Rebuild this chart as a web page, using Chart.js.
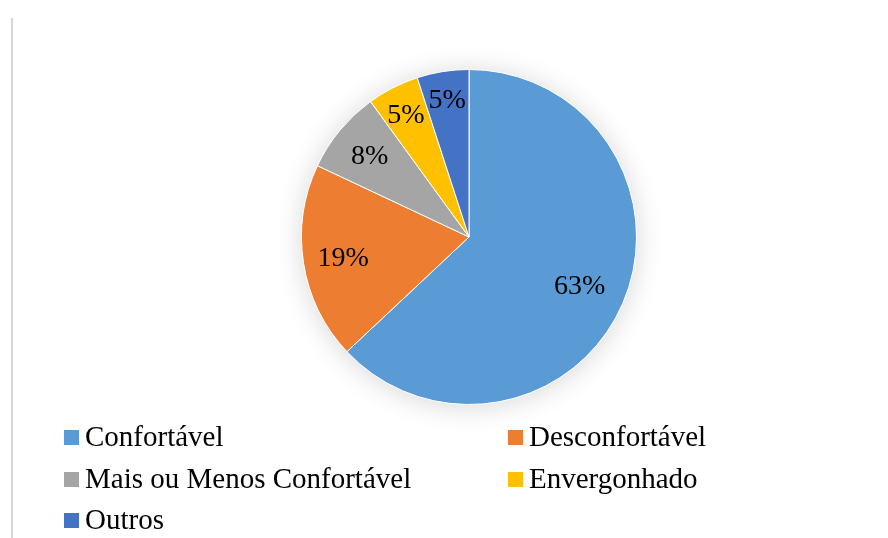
<!DOCTYPE html>
<html>
<head>
<meta charset="utf-8">
<script src="https://cdn.jsdelivr.net/npm/chart.js@4/dist/chart.umd.min.js"></script>
<style>
    body { margin: 0; background: #fff; }
    #wrap { position: relative; width: 888px; height: 538px; overflow: hidden; }
    #frame { position: absolute; left: 11px; top: 18px; width: 0; height: 530px; border-left: 2px solid #d6d6d6; }
    .legend-item { position: absolute; font-family: "Liberation Serif", "Times New Roman", serif; font-size: 29px; line-height: 32px; color: #000; white-space: nowrap; }
    .legend-box { position: absolute; width: 15px; height: 15px; }
</style>
</head>
<body>
<div id="wrap">
    <canvas id="pieChart" width="888" height="538"></canvas>
    <div id="frame"></div>
    <div id="legend"></div>
</div>
<script>
// ===== Data =====
const categories = ["Confortável", "Desconfortável", "Mais ou Menos Confortável", "Envergonhado", "Outros"];
const values = [63, 19, 8, 5, 5];
const colors = ["#5B9BD5", "#ED7D31", "#A5A5A5", "#FFC000", "#4472C4"];
const pctLabels = ["63%", "19%", "8%", "5%", "5%"];
// how far out (fraction of radius) each label sits
const labelRadius = [0.72, 0.76, 0.77, 0.83, 0.835];

// ===== Soft shadow behind the pie =====
const pieShadow = {
    id: "pieShadow",
    beforeDatasetsDraw(chart) {
        const arc = chart.getDatasetMeta(0).data[0];
        if (!arc) return;
        const ctx = chart.ctx;
        ctx.save();
        ctx.shadowColor = "rgba(0, 0, 0, 0.16)";
        ctx.shadowBlur = 28;
        ctx.shadowOffsetY = 2;
        ctx.fillStyle = "#fff";
        ctx.beginPath();
        ctx.arc(arc.x, arc.y, arc.outerRadius, 0, Math.PI * 2);
        ctx.fill();
        ctx.restore();
    }
};

// ===== Percent labels inside the slices =====
const sliceLabels = {
    id: "sliceLabels",
    afterDatasetsDraw(chart) {
        const ctx = chart.ctx;
        ctx.save();
        ctx.font = "28px 'Liberation Serif', 'Times New Roman', serif";
        ctx.fillStyle = "#000";
        ctx.textAlign = "center";
        ctx.textBaseline = "alphabetic";
        chart.getDatasetMeta(0).data.forEach((arc, i) => {
            const mid = (arc.startAngle + arc.endAngle) / 2;
            const r = arc.outerRadius * labelRadius[i];
            const x = arc.x + Math.cos(mid) * r;
            const y = arc.y + Math.sin(mid) * r;
            ctx.fillText(pctLabels[i], x, y + 9.5);
        });
        ctx.restore();
    }
};

const ctx = document.getElementById("pieChart").getContext("2d");
const chart = new Chart(ctx, {
    type: "pie",
    data: {
        labels: categories,
        datasets: [{
            data: values,
            backgroundColor: colors,
            borderColor: "#fff",
            borderWidth: 1
        }]
    },
    options: {
        responsive: false,
        animation: false,
        events: [],
        layout: { padding: { left: 300, right: 250, top: 69, bottom: 133 } },
        plugins: {
            legend: { display: false },
            tooltip: { enabled: false }
        }
    },
    plugins: [pieShadow, sliceLabels]
});

// ===== Legend (two columns, like the original) =====
const legend = document.getElementById("legend");
const colX = [64, 508];
const rowBase = [446, 487.5, 529];
categories.forEach((name, i) => {
    const col = i % 2;
    const row = Math.floor(i / 2);
    const box = document.createElement("div");
    box.className = "legend-box";
    box.style.left = colX[col] + "px";
    box.style.top = (rowBase[row] - 16) + "px";
    box.style.background = colors[i];
    legend.appendChild(box);

    const item = document.createElement("div");
    item.className = "legend-item";
    item.style.left = (colX[col] + 21) + "px";
    item.style.top = (rowBase[row] - 26) + "px";
    item.textContent = name;
    legend.appendChild(item);
});
</script>
</body>
</html>
